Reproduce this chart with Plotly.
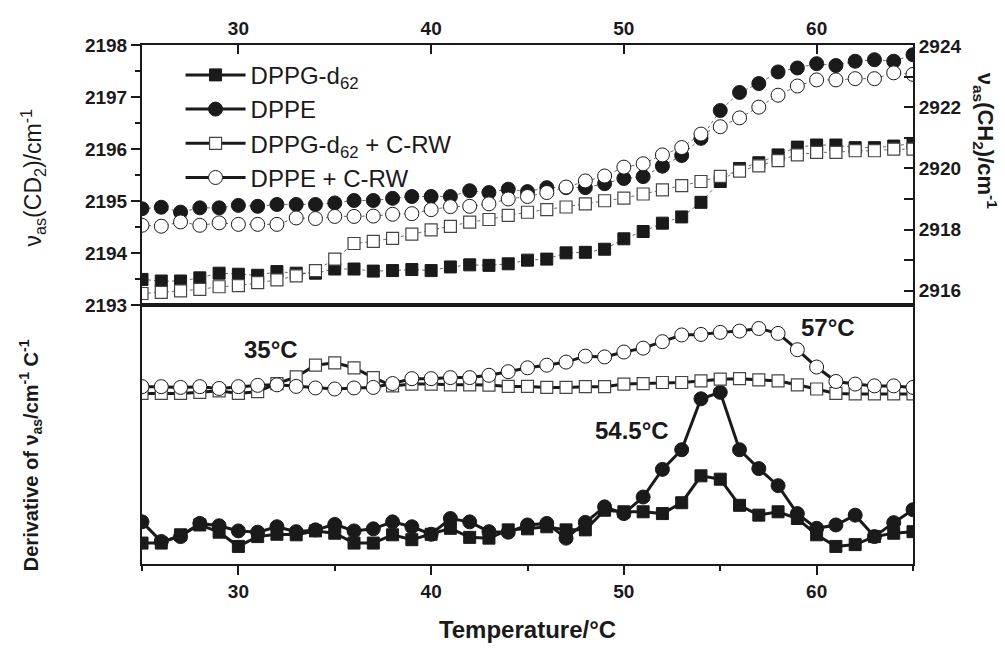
import plotly.graph_objects as go

# ---------------- data ----------------
temperature = list(range(25, 66))

# top panel: band positions
cd2_dppg = [2193.50, 2193.47, 2193.47, 2193.53, 2193.62, 2193.60, 2193.58, 2193.65, 2193.62, 2193.62,
            2193.70, 2193.70, 2193.66, 2193.67, 2193.69, 2193.67, 2193.74, 2193.78, 2193.77, 2193.80,
            2193.87, 2193.89, 2194.01, 2194.02, 2194.08, 2194.28, 2194.42, 2194.58, 2194.70, 2194.98,
            2195.38, 2195.63, 2195.74, 2195.89, 2196.04, 2196.08, 2196.08, 2196.03, 2196.03, 2196.06,
            2196.11]
cd2_dppg_crw = [2193.23, 2193.25, 2193.28, 2193.31, 2193.36, 2193.38, 2193.44, 2193.49, 2193.57, 2193.67,
                2193.89, 2194.19, 2194.23, 2194.29, 2194.37, 2194.45, 2194.52, 2194.60, 2194.65, 2194.73,
                2194.79, 2194.84, 2194.89, 2194.95, 2195.01, 2195.06, 2195.14, 2195.22, 2195.30, 2195.38,
                2195.48, 2195.58, 2195.68, 2195.78, 2195.89, 2195.94, 2195.94, 2195.97, 2195.97, 2196.00,
                2196.00]
ch2_dppe = [2918.68, 2918.73, 2918.57, 2918.71, 2918.71, 2918.79, 2918.76, 2918.82, 2918.82, 2918.82,
            2918.87, 2918.95, 2918.95, 2919.02, 2919.08, 2919.08, 2919.08, 2919.27, 2919.21, 2919.32,
            2919.24, 2919.37, 2919.37, 2919.37, 2919.50, 2919.67, 2919.73, 2920.07, 2920.42, 2920.98,
            2921.89, 2922.48, 2922.77, 2923.15, 2923.28, 2923.42, 2923.36, 2923.50, 2923.55, 2923.50,
            2923.71]
ch2_dppe_crw = [2918.14, 2918.11, 2918.25, 2918.14, 2918.22, 2918.17, 2918.17, 2918.17, 2918.38, 2918.36,
                2918.43, 2918.43, 2918.44, 2918.50, 2918.52, 2918.65, 2918.75, 2918.76, 2918.84, 2919.00,
                2919.08, 2919.21, 2919.39, 2919.59, 2919.75, 2920.04, 2920.15, 2920.44, 2920.68, 2921.12,
                2921.36, 2921.65, 2922.00, 2922.39, 2922.69, 2922.89, 2922.89, 2922.93, 2922.93, 2923.12,
                2923.07]

# bottom panel: derivatives (arbitrary units)
d_dppg = [8.1, 8.1, 11.3, 15.1, 12.3, 6.8, 10.6, 11.5, 11.3, 12.8, 11.9, 8.1, 8.1, 11.3,
          9.4, 11.5, 13.8, 10.3, 10.0, 13.2, 13.6, 14.4, 13.2, 13.2, 20.8, 20.2, 20.2,
          19.5, 23.7, 34.1, 32.8, 22.7, 18.9, 20.2, 17.6, 11.3, 6.8, 7.5, 10.6, 11.9, 12.5]
d_dppe = [16.3, 8.7, 10.6, 15.7, 14.8, 12.8, 12.3, 14.4, 12.5, 13.2, 15.3, 12.8, 13.6, 16.3,
          14.4, 11.5, 17.6, 16.3, 12.5, 12.3, 15.1, 15.7, 10.0, 16.1, 22.1, 19.5, 25.9,
          36.6, 44.2, 63.9, 66.4, 44.2, 36.9, 30.3, 19.5, 13.8, 15.1, 18.9, 10.6, 16.0, 21.0]
d_dppg_crw = [66.0, 66.0, 66.0, 66.4, 67.0, 66.0, 66.7, 69.8, 72.4, 76.9, 77.8, 75.9, 72.1, 68.9,
              69.6, 69.6, 69.3, 69.3, 69.2, 68.7, 68.7, 68.3, 68.3, 68.6, 68.6, 69.6, 69.8,
              70.2, 70.2, 70.8, 71.5, 71.7, 71.2, 70.8, 69.3, 67.7, 66.0, 65.8, 65.8, 65.8, 65.8]
d_dppe_crw = [68.6, 68.6, 68.3, 68.6, 67.9, 68.6, 69.1, 69.3, 68.7, 68.1, 67.7, 68.1, 68.3, 69.8,
              71.7, 71.7, 72.1, 72.1, 73.0, 74.4, 75.9, 76.9, 78.1, 80.4, 80.1, 82.0, 83.5,
              86.0, 88.6, 88.8, 89.6, 90.1, 91.1, 89.2, 82.9, 76.2, 70.6, 69.6, 68.9, 68.9, 68.3]

series_names = ["DPPG-d<sub>62</sub>", "DPPE", "DPPG-d<sub>62</sub> + C-RW", "DPPE + C-RW"]
peak_labels = [("35°C", 31.7, 82.9), ("54.5°C", 50.4, 51.7), ("57°C", 60.6, 91.3)]

# ---------------- styles ----------------
FONT = "Liberation Sans, Arial, sans-serif"
BLACK = "#1a1a1a"
filled_sq = dict(symbol="square", size=12, color=BLACK, line=dict(color=BLACK, width=1))
filled_ci = dict(symbol="circle", size=14, color=BLACK, line=dict(color=BLACK, width=1))
open_sq = dict(symbol="square", size=12, color="white", line=dict(color="#444", width=1.2))
open_ci = dict(symbol="circle", size=14, color="white", line=dict(color=BLACK, width=1))
markers = [filled_sq, filled_ci, open_sq, open_ci]

fig = go.Figure()

# top panel
top_line = dict(color="#444", width=0.8, dash="dot")
top_data = [(cd2_dppg, "y2"), (ch2_dppe, "y3"), (cd2_dppg_crw, "y2"), (ch2_dppe_crw, "y3")]
for (vals, ya), mk in zip(top_data, markers):
    fig.add_trace(go.Scatter(x=temperature, y=vals, xaxis="x2", yaxis=ya, mode="lines+markers",
                             line=top_line, marker=mk, showlegend=False))

# bottom panel
bot_line = dict(color=BLACK, width=3)
for vals, mk in zip([d_dppg, d_dppe, d_dppg_crw, d_dppe_crw], markers):
    fig.add_trace(go.Scatter(x=temperature, y=vals, xaxis="x", yaxis="y", mode="lines+markers",
                             line=bot_line, marker=mk, showlegend=False))

# legend entries
for name, mk in zip(series_names, markers):
    fig.add_trace(go.Scatter(x=[None], y=[None], xaxis="x2", yaxis="y2", mode="lines+markers",
                             name=name, line=dict(color=BLACK, width=3), marker=mk))

split = 263 / 528
ann = []
for txt, tx, ty in peak_labels:
    ann.append(dict(x=tx, y=ty, xref="x", yref="y", text=txt, showarrow=False,
                    font=dict(family=FONT, size=24, color=BLACK, weight="bold")))
ann += [
    dict(x=-0.142, y=0.744, xref="paper", yref="paper", xanchor="center", yanchor="middle",
         text="ν<sub>as</sub>(CD<sub>2</sub>)/cm<sup>-1</sup>",
         textangle=-90, showarrow=False, font=dict(family=FONT, size=23, color=BLACK)),
    dict(x=-0.145, y=0.21, xref="paper", yref="paper", xanchor="center", yanchor="middle",
         text="Derivative of ν<sub>as</sub>/cm<sup>-1</sup> C<sup>-1</sup>",
         textangle=-90, showarrow=False, font=dict(family=FONT, size=20, color=BLACK, weight="bold")),
    dict(x=1.095, y=0.815, xref="paper", yref="paper", xanchor="center", yanchor="middle",
         text="ν<sub>as</sub>(CH<sub>2</sub>)/cm<sup>-1</sup>",
         textangle=90, showarrow=False, font=dict(family=FONT, size=22, color=BLACK, weight="bold")),
]

tickfont = dict(family=FONT, size=19, color=BLACK, weight="bold")
fig.update_layout(
    width=1005, height=651,
    margin=dict(l=142, r=92, t=45, b=78),
    paper_bgcolor="white", plot_bgcolor="white",
    font=dict(family=FONT, color=BLACK),
    xaxis=dict(domain=[0, 1], range=[25, 65], anchor="y", tickmode="linear", tick0=30, dtick=10,
               ticks="outside", ticklen=9, tickwidth=1.5, tickcolor=BLACK,
               minor=dict(dtick=5, tick0=25, ticks="outside", ticklen=5, tickwidth=1.5, tickcolor=BLACK),
               showline=True, linewidth=2, linecolor=BLACK, mirror=True, showgrid=False, zeroline=False,
               tickfont=tickfont,
               title=dict(text="Temperature/°C", standoff=20,
                          font=dict(family=FONT, size=24, color=BLACK, weight="bold"))),
    yaxis=dict(domain=[0, split], range=[0, 100], showticklabels=False, ticks="",
               showline=True, linewidth=2, linecolor=BLACK, mirror=True, showgrid=False, zeroline=False),
    xaxis2=dict(domain=[0, 1], range=[25, 65], anchor="y2", side="top", tickmode="linear", tick0=30, dtick=10,
                ticks="inside", ticklen=9, tickwidth=1.5, tickcolor=BLACK,
                showline=True, linewidth=2, linecolor=BLACK, mirror=True, showgrid=False, zeroline=False,
                tickfont=tickfont),
    yaxis2=dict(domain=[split, 1], range=[2193, 2198], anchor="x2", tickmode="linear", tick0=2193, dtick=1,
                ticks="outside", ticklen=9, tickwidth=1.5, tickcolor=BLACK,
                minor=dict(dtick=0.5, ticks="outside", ticklen=5, tickwidth=1.5, tickcolor=BLACK),
                showline=True, linewidth=2, linecolor=BLACK, showgrid=False, zeroline=False,
                tickfont=tickfont),
    yaxis3=dict(overlaying="y2", side="right", anchor="x2", range=[2915.52, 2924.03],
                tickmode="linear", tick0=2916, dtick=2,
                ticks="inside", ticklen=9, tickwidth=1.5, tickcolor=BLACK,
                minor=dict(dtick=1, ticks="inside", ticklen=9, tickwidth=1.5, tickcolor=BLACK),
                showline=True, linewidth=2, linecolor=BLACK, showgrid=False, zeroline=False,
                tickfont=tickfont),
    legend=dict(x=0.05, y=0.985, xanchor="left", yanchor="top", bgcolor="rgba(0,0,0,0)",
                itemwidth=60, font=dict(family=FONT, size=24, color=BLACK), tracegroupgap=0),
    annotations=ann,
)

fig.write_html("out.html")
